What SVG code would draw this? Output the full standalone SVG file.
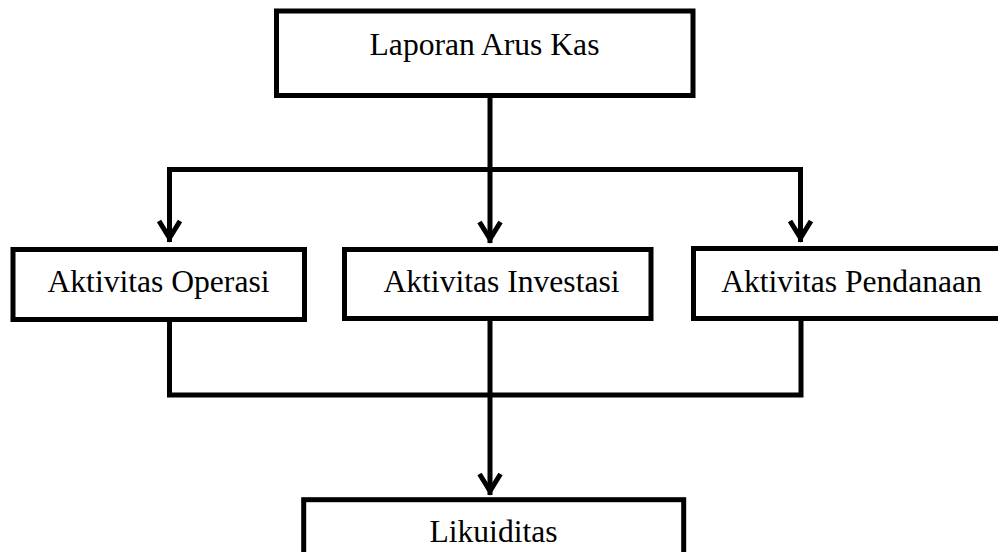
<svg xmlns="http://www.w3.org/2000/svg" width="998" height="552" viewBox="0 0 998 552">
  <style>
    .box { fill: #ffffff; stroke: #000000; stroke-width: 5; }
    .lbl { font-family: "Liberation Serif", "Times New Roman", serif; font-size: 31.6px; fill: #000000; text-anchor: middle; }
    .conn { fill: none; stroke: #000000; stroke-width: 5; stroke-linejoin: miter; }
    .arr { marker-end: url(#chev); }
  </style>
  <defs>
    <marker id="chev" markerUnits="userSpaceOnUse" viewBox="-30 -15 35 30" refX="0" refY="0" markerWidth="35" markerHeight="30" orient="auto" overflow="visible">
      <path d="M-21,-10.5 L-4,0 L-21,10.5" fill="none" stroke="#000000" stroke-width="5" stroke-linejoin="miter"/>
    </marker>
  </defs>
  <rect width="998" height="552" fill="#ffffff"/>

  <g id="connectors">
    <path class="conn arr" d="M490,98 V243"/>
    <path class="conn arr" d="M490,169.5 H169.5 V242"/>
    <path class="conn arr" d="M490,169.5 H800.5 V242"/>
    <path class="conn" d="M169.5,319.5 V395 H801 V318.5"/>
    <path class="conn arr" d="M490,318.5 V495"/>
  </g>

  <g id="node-laporan">
    <rect class="box" x="276.5" y="11" width="416.5" height="84.5"/>
    <text class="lbl" x="484.5" y="54.5">Laporan Arus Kas</text>
  </g>
  <g id="node-operasi">
    <rect class="box" x="13" y="249.5" width="291.5" height="70"/>
    <text class="lbl" x="158.5" y="291.5">Aktivitas Operasi</text>
  </g>
  <g id="node-investasi">
    <rect class="box" x="344.5" y="249.5" width="306.5" height="69"/>
    <text class="lbl" x="501.5" y="291.5">Aktivitas Investasi</text>
  </g>
  <g id="node-pendanaan">
    <rect class="box" x="693.5" y="248.5" width="320" height="70"/>
    <text class="lbl" x="851.5" y="291.5">Aktivitas Pendanaan</text>
  </g>
  <g id="node-likuiditas">
    <rect class="box" x="303.7" y="499.7" width="380" height="80"/>
    <text class="lbl" x="493.5" y="541.7">Likuiditas</text>
  </g>
</svg>
